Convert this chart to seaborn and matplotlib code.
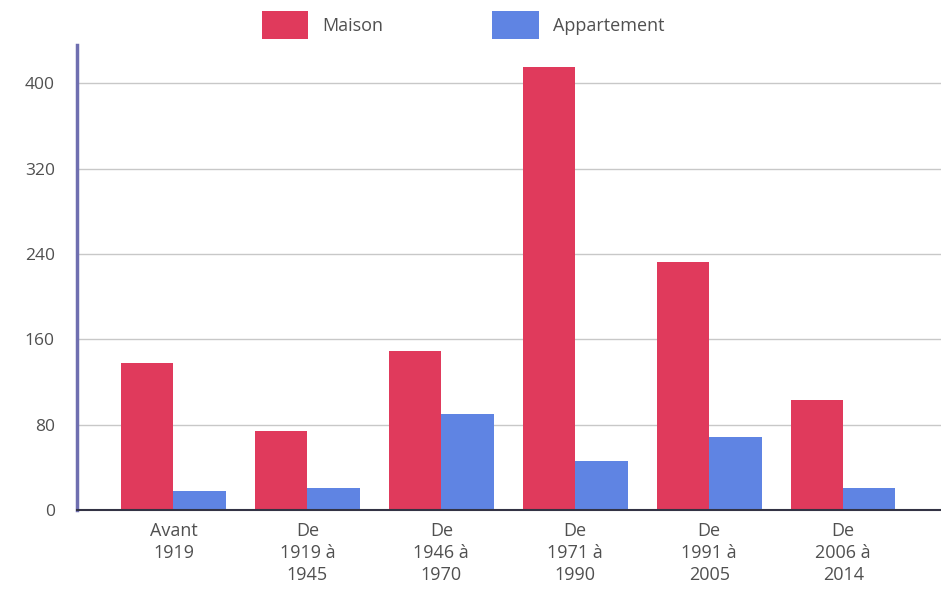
import matplotlib
matplotlib.use("Agg")
import matplotlib.pyplot as plt
import matplotlib.patches as mpatches
import seaborn as sns
import pandas as pd

periodes = ["Avant\n1919", "De\n1919 à\n1945", "De\n1946 à\n1970",
            "De\n1971 à\n1990", "De\n1991 à\n2005", "De\n2006 à\n2014"]
maison = [138, 74, 149, 415, 233, 103]
appartement = [18, 21, 90, 46, 68, 21]
series = ["Maison", "Appartement"]
couleurs = ["#E03A5C", "#5F84E3"]
yticks = [0, 80, 160, 240, 320, 400]

df = pd.DataFrame({
    "periode": periodes * 2,
    "type": [series[0]] * len(periodes) + [series[1]] * len(periodes),
    "nombre": maison + appartement,
})

sns.set_theme(style="white")
plt.rcParams["font.family"] = ["Open Sans", "DejaVu Sans"]

fig = plt.figure(figsize=(9.41, 5.95), dpi=100)
ax = fig.add_axes([77 / 941, 1 - 510 / 595, 1 - 77 / 941, (510 - 45) / 595])

sns.barplot(data=df, x="periode", y="nombre", hue="type", order=periodes,
            hue_order=series, palette=couleurs, width=0.78, saturation=1,
            edgecolor="none", linewidth=0, ax=ax, legend=False)

ax.set_xlim(-0.72, 5.73)
ax.set_ylim(0, 436)
ax.set_yticks(yticks)
ax.set_yticklabels([str(v) for v in yticks], fontsize=12.5, color="#505050")
ax.set_xticks(range(len(periodes)))
ax.set_xticklabels(periodes, fontsize=13, color="#505050", linespacing=1.28)
ax.set_xlabel("")
ax.set_ylabel("")

ax.yaxis.grid(True, color="#c8c8c8", linewidth=1)
ax.set_axisbelow(True)
ax.tick_params(axis="y", length=9, width=1, color="#c8c8c8", pad=7)
ax.tick_params(axis="x", length=0, pad=9)

for side in ["top", "right"]:
    ax.spines[side].set_visible(False)
ax.spines["left"].set_color("#6F6FB0")
ax.spines["left"].set_linewidth(2.5)
ax.spines["bottom"].set_color("#333344")
ax.spines["bottom"].set_linewidth(1.5)

handles = [mpatches.Patch(facecolor=c, edgecolor="none", label=s)
           for s, c in zip(series, couleurs)]
fig.legend(handles=handles, loc="center", bbox_to_anchor=(0.492, 1 - 25 / 595),
           ncol=2, frameon=False, fontsize=13, handlelength=2.6,
           handleheight=2.0, handletextpad=0.78, columnspacing=6.0,
           labelcolor="#505050")

fig.savefig("out.png", dpi=100)
